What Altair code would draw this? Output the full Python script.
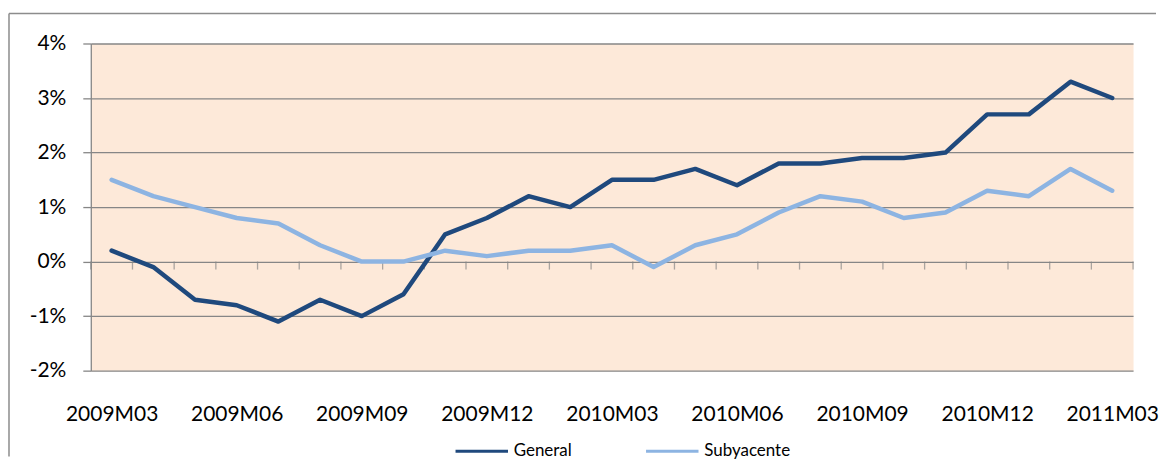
import altair as alt
import pandas as pd

months = ["2009M03", "2009M04", "2009M05", "2009M06", "2009M07", "2009M08", "2009M09",
          "2009M10", "2009M11", "2009M12", "2010M01", "2010M02", "2010M03", "2010M04",
          "2010M05", "2010M06", "2010M07", "2010M08", "2010M09", "2010M10", "2010M11",
          "2010M12", "2011M01", "2011M02", "2011M03"]
general = [0.2, -0.1, -0.7, -0.8, -1.1, -0.7, -1.0, -0.6, 0.5, 0.8, 1.2, 1.0, 1.5,
           1.5, 1.7, 1.4, 1.8, 1.8, 1.9, 1.9, 2.0, 2.7, 2.7, 3.3, 3.0]
subyacente = [1.5, 1.2, 1.0, 0.8, 0.7, 0.3, 0.0, 0.0, 0.2, 0.1, 0.2, 0.2, 0.3,
              -0.1, 0.3, 0.5, 0.9, 1.2, 1.1, 0.8, 0.9, 1.3, 1.2, 1.7, 1.3]
series_names = ["General", "Subyacente"]
series_colors = ["#1F497D", "#8DB4E2"]
y_ticks = [-2, -1, 0, 1, 2, 3, 4]
label_step = 3

FONT = "Lato"
GRID = "#868686"

rows = []
for i, m in enumerate(months):
    rows.append({"i": i, "mes": m, "serie": series_names[0], "valor": general[i]})
    rows.append({"i": i, "mes": m, "serie": series_names[1], "valor": subyacente[i]})
df = pd.DataFrame(rows)
bounds = pd.DataFrame({"b": [k - 0.5 for k in range(len(months) + 1)]})

label_js = "[" + ",".join(f"'{m}'" for m in months) + "][datum.value]"

xscale = alt.Scale(domain=[-0.5, len(months) - 0.5], nice=False, zero=False)
yscale = alt.Scale(domain=[y_ticks[0], y_ticks[-1]], nice=False)
cscale = alt.Scale(domain=series_names, range=series_colors)

lines = alt.Chart(df).mark_line(strokeWidth=4.5, strokeCap="round", strokeJoin="round").encode(
    x=alt.X("i:Q", scale=xscale, title=None,
            axis=alt.Axis(values=list(range(0, len(months), label_step)), labelExpr=label_js,
                          grid=False, domain=False, ticks=False, tickSize=0,
                          labelPadding=50, labelBaseline="alphabetic", labelFontSize=21,
                          labelFont=FONT, labelColor="black", labelOverlap=False)),
    y=alt.Y("valor:Q", scale=yscale, title=None,
            axis=alt.Axis(values=y_ticks, labelExpr="datum.value + '%'", grid=True,
                          gridColor=GRID, gridWidth=1.3, domainColor=GRID, domainWidth=1.3,
                          tickColor=GRID, tickWidth=1.3, tickSize=8, labelPadding=17,
                          labelFontSize=21, labelFont=FONT, labelColor="black")),
    color=alt.Color("serie:N", scale=cscale, legend=None),
)

ticks = alt.Chart(bounds).mark_tick(orient="vertical", size=8, thickness=1.3, color=GRID,
                                    yOffset=4).encode(
    x=alt.X("b:Q", scale=xscale, title=None),
    y=alt.datum(0),
)

one = alt.Data(values=[{}])
frame_top = alt.Chart(one).mark_rule(color="#8C8C8C", strokeWidth=1.5).encode(
    x=alt.value(-82), x2=alt.value(1068), y=alt.value(-30))
frame_left = alt.Chart(one).mark_rule(color="#8C8C8C", strokeWidth=1.5).encode(
    x=alt.value(-82), y=alt.value(-30), y2=alt.value(414))

leg_layers = []
leg_pos = [(365.7, 418.3, 424), (556.7, 609.3, 615)]
for name, (x0, x1, xt) in zip(series_names, leg_pos):
    d = alt.Data(values=[{"serie": name}])
    leg_layers.append(alt.Chart(d).mark_rule(strokeWidth=3).encode(
        x=alt.value(x0), x2=alt.value(x1), y=alt.value(408.7),
        color=alt.Color("serie:N", scale=cscale, legend=None)))
    leg_layers.append(alt.Chart(d).mark_text(align="left", baseline="middle", fontSize=17,
                                             font=FONT, color="black").encode(
        x=alt.value(xt), y=alt.value(409), text="serie:N"))

chart = alt.layer(frame_top, frame_left, ticks, lines, *leg_layers).properties(
    width=1045, height=328,
    padding={"left": 0, "top": 4, "right": 0, "bottom": 0},
).configure_view(fill="#FDE9D9", stroke="transparent")

chart.save("out.html", embed_options={"renderer": "svg", "actions": False})
